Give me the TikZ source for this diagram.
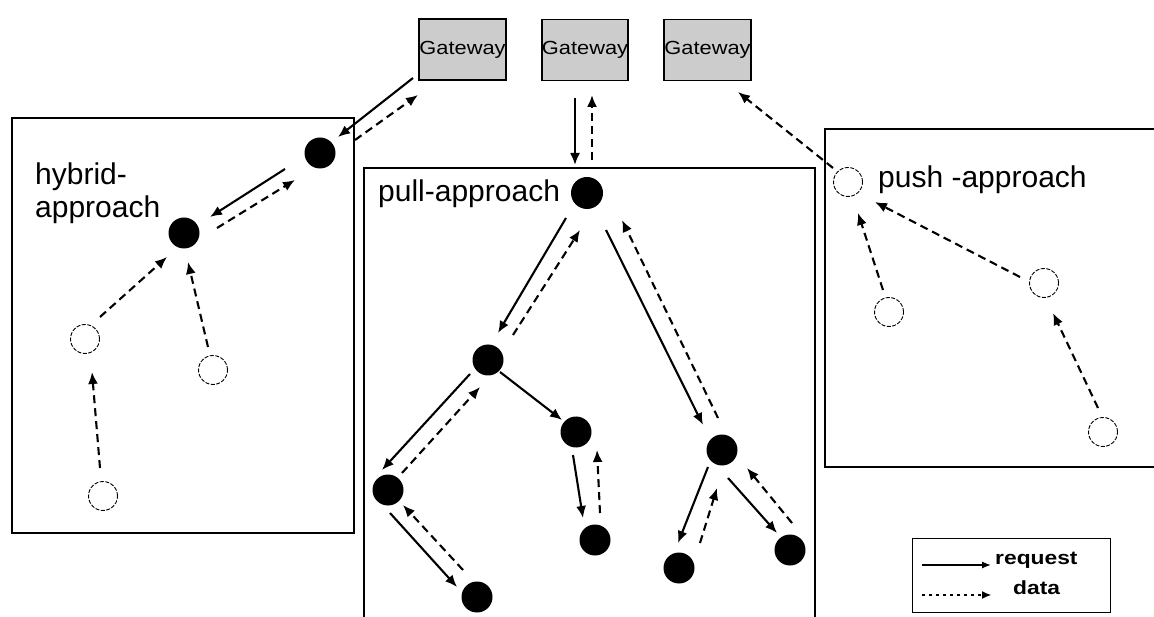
\documentclass[tikz,border=0pt]{standalone}
\usepackage{fontspec}
\setmainfont{Liberation Sans}
\usetikzlibrary{arrows.meta}
\begin{document}
\begin{tikzpicture}[x=1pt,y=-1pt,
  full/.style={circle,fill=black,minimum size=31pt,inner sep=0pt},
  hollow/.style={circle,draw,line width=0.9pt,dash pattern=on 4pt off 1.5pt,minimum size=29pt,inner sep=0pt},
  gw/.style={draw,line width=1.8pt,fill=gray!40,minimum width=79pt,minimum height=61pt,inner sep=0pt,font=\fontsize{19}{19}\selectfont},
  frame/.style={line width=1.4pt},
  lbl/.style={anchor=base west,inner sep=0pt,font=\fontsize{30}{30}\selectfont},
  req/.style={line width=2.1pt,-{Latex[length=12pt,width=10pt]}},
  dat/.style={line width=2.1pt,dash pattern=on 8pt off 5pt,-{Latex[length=12pt,width=10pt]}},
  legtxt/.style={anchor=base west,inner sep=0pt,font=\bfseries\fontsize{19}{19}\selectfont},
]
\useasboundingbox (0,0) rectangle (1154,617);
% frames
\draw[frame] (12,118) rectangle (354,533);
\draw[frame] (364,617) -- (364,168) -- (815,168) -- (815,617);
\draw[frame] (1154,129) -- (825,129) -- (825,467) -- (1154,467);
% gateways
\node[gw] (G1) at (462.5,49.5) {\scalebox{1.15}[1]{Gateway}};
\node[gw] (G2) at (585,50) {\scalebox{1.15}[1]{Gateway}};
\node[gw] (G3) at (707.5,50) {\scalebox{1.15}[1]{Gateway}};
% hybrid
\node[full] (H1) at (320,153) {};
\node[full] (H2) at (184,233) {};
\node[hollow] (H3) at (85,339) {};
\node[hollow] (H4) at (213,370) {};
\node[hollow] (H5) at (103,496) {};
\node[lbl] (thyb1) at (35,185) {hybrid-};
\node[lbl] (thyb2) at (35,218) {approach};
% pull
\node[full,minimum size=32pt] (P0) at (587,193) {};
\node[full] (PA) at (488,360) {};
\node[full] (PB) at (576,432) {};
\node[full] (PC) at (722,450) {};
\node[full] (PD) at (388,490) {};
\node[full] (PE) at (595,540) {};
\node[full] (PF) at (679,568) {};
\node[full] (PG) at (790,550) {};
\node[full] (PH) at (477,597) {};
\node[lbl] (tpull) at (378,202) {pull-approach};
% push
\node[hollow] (Q0) at (848,182) {};
\node[hollow] (Q1) at (889,312) {};
\node[hollow] (Q2) at (1044,283) {};
\node[hollow] (Q3) at (1103,432) {};
\node[lbl] (tpush) at (878,188) {push -approach};
% hybrid connectors
\draw[req] ([shift={(-49.5,28.5)}]G1.center) -- ([shift={(18,-16)}]H1.center);
\draw[dat] ([shift={(35,-13)}]H1.center) -- ([shift={(-44.5,45.5)}]G1.center);
\draw[req] ([shift={(-35,16)}]H1.center) -- ([shift={(26,-16)}]H2.center);
\draw[dat] ([shift={(33,-5)}]H2.center) -- ([shift={(-25,27)}]H1.center);
\draw[dat] ([shift={(15,-22)}]H3.center) -- ([shift={(-17,24)}]H2.center);
\draw[dat] ([shift={(-5,-23)}]H4.center) -- ([shift={(4,29)}]H2.center);
\draw[dat] ([shift={(-3,-28)}]H5.center) -- ([shift={(7,33)}]H3.center);
% pull connectors
\draw[req] ([shift={(-10,48)}]G2.center) -- ([shift={(-12,-28)}]P0.center);
\draw[dat] ([shift={(5,-33)}]P0.center) -- ([shift={(7,45)}]G2.center);
\draw[req] ([shift={(-21,25)}]P0.center) -- ([shift={(10,-27)}]PA.center);
\draw[dat] ([shift={(25,-25)}]PA.center) -- ([shift={(-7,37)}]P0.center);
\draw[req] ([shift={(19,37)}]P0.center) -- ([shift={(-19,-25)}]PC.center);
\draw[dat] ([shift={(-4,-32)}]PC.center) -- ([shift={(35,27)}]P0.center);
\draw[req] ([shift={(-18,14)}]PA.center) -- ([shift={(-6,-20)}]PD.center);
\draw[dat] ([shift={(14,-17)}]PD.center) -- ([shift={(-8,27)}]PA.center);
\draw[req] ([shift={(12,12)}]PA.center) -- ([shift={(-14,-12)}]PB.center);
\draw[req] ([shift={(-3,23)}]PB.center) -- ([shift={(-12,-22)}]PE.center);
\draw[dat] ([shift={(5,-27)}]PE.center) -- ([shift={(21,18)}]PB.center);
\draw[req] ([shift={(2,23)}]PD.center) -- ([shift={(-20,-10)}]PH.center);
\draw[dat] ([shift={(-14,-27)}]PH.center) -- ([shift={(15,15)}]PD.center);
\draw[req] ([shift={(-14,17)}]PC.center) -- ([shift={(-1,-25)}]PF.center);
\draw[dat] ([shift={(21,-25)}]PF.center) -- ([shift={(-5,38)}]PC.center);
\draw[req] ([shift={(6,28)}]PC.center) -- ([shift={(-13,-17)}]PG.center);
\draw[dat] ([shift={(2,-27)}]PG.center) -- ([shift={(25,18)}]PC.center);
% push connectors
\draw[dat] ([shift={(-15,-14)}]Q0.center) -- ([shift={(30.5,42)}]G3.center);
\draw[dat] ([shift={(-24,-6)}]Q2.center) -- ([shift={(27,20)}]Q0.center);
\draw[dat] ([shift={(-6,-22)}]Q1.center) -- ([shift={(10,31)}]Q0.center);
\draw[dat] ([shift={(-5,-24)}]Q3.center) -- ([shift={(9,30)}]Q2.center);
% legend
\draw[line width=1pt] (912,538) rectangle (1110,612);
\node[legtxt] (treq) at (995,564) {\scalebox{1.2}[1]{request}};
\node[legtxt] (tdat) at (1013,594) {\scalebox{1.2}[1]{data}};
\coordinate (lr1) at (922,565);
\coordinate (lr2) at (991,565);
\coordinate (ld1) at (922,595);
\coordinate (ld2) at (991,595);
\draw[line width=1.3pt,-{Latex[length=9pt,width=7pt]}] (lr1) -- (lr2);
\draw[line width=1.1pt,dash pattern=on 3pt off 4pt,-{Latex[length=9pt,width=8pt]}] (ld1) -- (ld2);
\end{tikzpicture}
\end{document}
